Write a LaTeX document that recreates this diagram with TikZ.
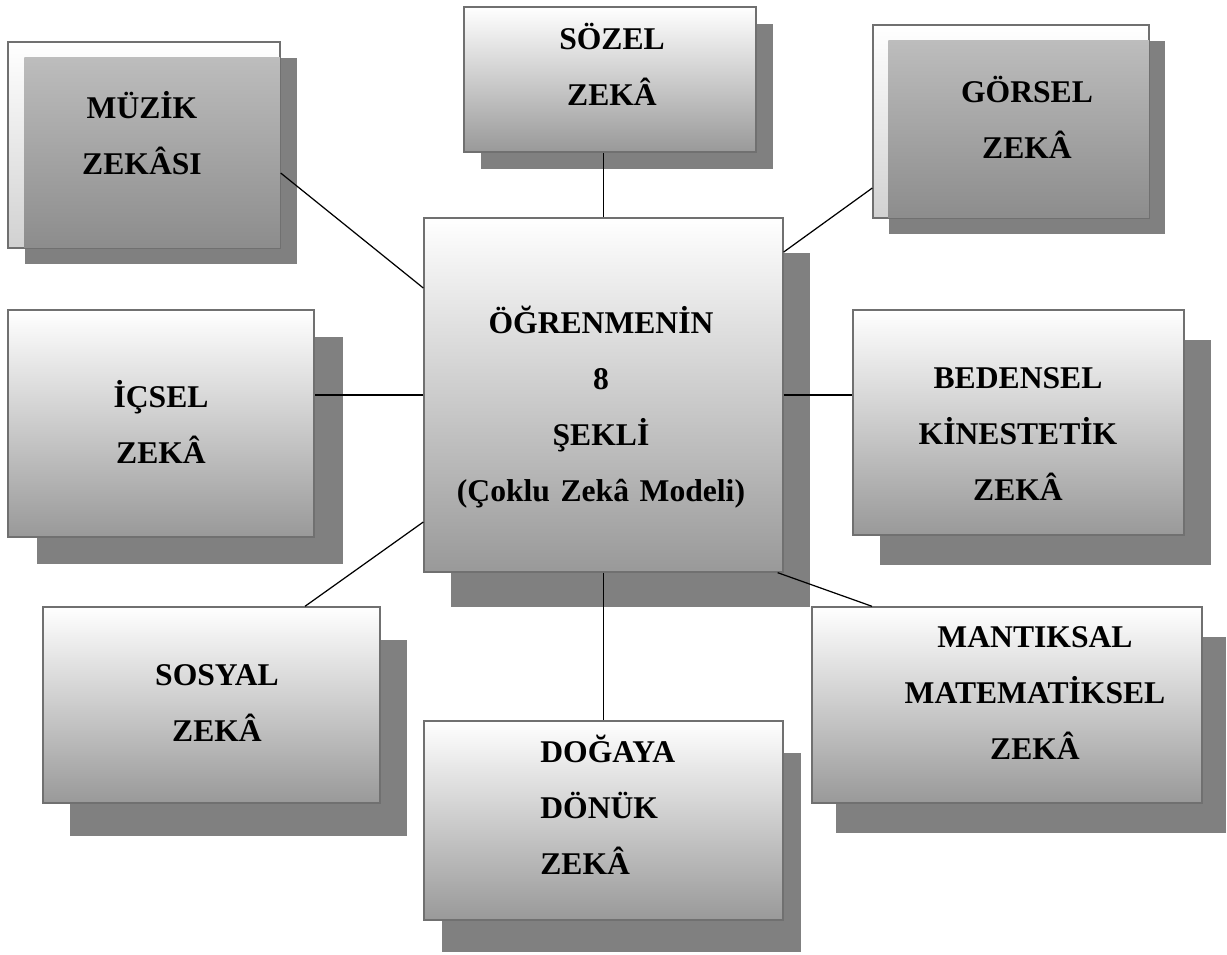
\documentclass[tikz,border=0pt]{standalone}
\usepackage{fontspec}
\setmainfont{Liberation Serif}
\usetikzlibrary{shadows}

\definecolor{shadowgray}{HTML}{808080}
\definecolor{framegray}{HTML}{707070}

\tikzset{
  box/.style={draw=framegray,line width=0.8pt,top color=white,bottom color=black!40,inner sep=0pt},
  sh/.style 2 args={drop shadow={shadow xshift=#1,shadow yshift=#2,draw=none,top color=shadowgray,bottom color=shadowgray,opacity=1}},
  lbl/.style={inner sep=0pt,anchor=base,align=center,text width=#1,font=\fontsize{18}{32}\selectfont\bfseries},
  link/.style={line width=0.7pt}
}

\begin{document}
\begin{tikzpicture}[x=0.02cm,y=-0.02cm]
\useasboundingbox (0,0) rectangle (1227,954);
% boxes
\node[box,bottom color=black!18,minimum width=5.44cm,minimum height=4.12cm,sh={0.34cm}{-0.32cm}] (muz) at (144,145) {};
\node[box,minimum width=5.84cm,minimum height=2.9cm,sh={0.34cm}{-0.34cm}] (soz) at (610,79.5) {};
\node[box,bottom color=black!18,minimum width=5.52cm,minimum height=3.86cm,sh={0.32cm}{-0.32cm}] (gor) at (1011,121.5) {};
\node[box,minimum width=7.18cm,minimum height=7.08cm,sh={0.54cm}{-0.7cm}] (c) at (603.5,395) {};
\node[box,minimum width=6.12cm,minimum height=4.54cm,sh={0.58cm}{-0.54cm}] (ics) at (161,423.5) {};
\node[box,minimum width=6.62cm,minimum height=4.5cm,sh={0.54cm}{-0.6cm}] (bed) at (1018.5,422.5) {};
\node[box,minimum width=6.74cm,minimum height=3.92cm,sh={0.54cm}{-0.66cm}] (sos) at (211.5,705) {};
\node[box,minimum width=7.8cm,minimum height=3.92cm,sh={0.48cm}{-0.6cm}] (man) at (1007,705) {};
\node[box,minimum width=7.18cm,minimum height=3.98cm,sh={0.36cm}{-0.64cm}] (dog) at (603.5,820.5) {};
% shadow lying over the two upper corner boxes
\shade[top color=black!26,bottom color=black!45] ([shift={(0.34cm,-0.32cm)}]muz.north west) rectangle (muz.south east);
\draw[framegray,line width=0.8pt] (muz.north west) rectangle (muz.south east);
\shade[top color=black!26,bottom color=black!45] ([shift={(0.32cm,-0.32cm)}]gor.north west) rectangle (gor.south east);
\draw[framegray,line width=0.8pt] (gor.north west) rectangle (gor.south east);
% links
\draw[link] ([yshift=-0.56cm]muz.east)--([yshift=2.14cm]c.west);
\draw[link] (c.north)--(c.north |- soz.south);
\draw[link] ([yshift=-1.33cm]gor.west)--([yshift=2.86cm]c.east);
\draw[link] (c.west)--(c.west -| ics.east);
\draw[link] (c.east)--(c.east -| bed.west);
\draw[link] ([xshift=1.87cm]sos.north)--([yshift=-2.54cm]c.west);
\draw[link] (c.south)--(dog.north);
\draw[link] ([xshift=-0.12cm]c.south east)--([xshift=-2.7cm]man.north);
% texts
\node[lbl=5cm] (muzt) at (142,118) {MÜZİK\\ZEKÂSI};
\node[lbl=5cm] (sozt) at (612,49) {SÖZEL\\ZEKÂ};
\node[lbl=5cm] (gort) at (1027,102) {GÖRSEL\\ZEKÂ};
\node[lbl=5cm] (icst) at (161,407) {İÇSEL\\ZEKÂ};
\node[lbl=6.8cm] (ct) at (601,333) {ÖĞRENMENİN\\8\\ŞEKLİ\\(Çoklu Zekâ Modeli)};
\node[lbl=6cm] (bedt) at (1018,388) {BEDENSEL\\KİNESTETİK\\ZEKÂ};
\node[lbl=7cm] (mant) at (1035,647) {MANTIKSAL\\MATEMATİKSEL\\ZEKÂ};
\node[lbl=6cm] (sost) at (217,685) {SOSYAL\\ZEKÂ};
\node[lbl=5cm,align=left,anchor=base west] (dogt) at (540,762) {DOĞAYA\\DÖNÜK\\ZEKÂ};
\end{tikzpicture}
\end{document}
